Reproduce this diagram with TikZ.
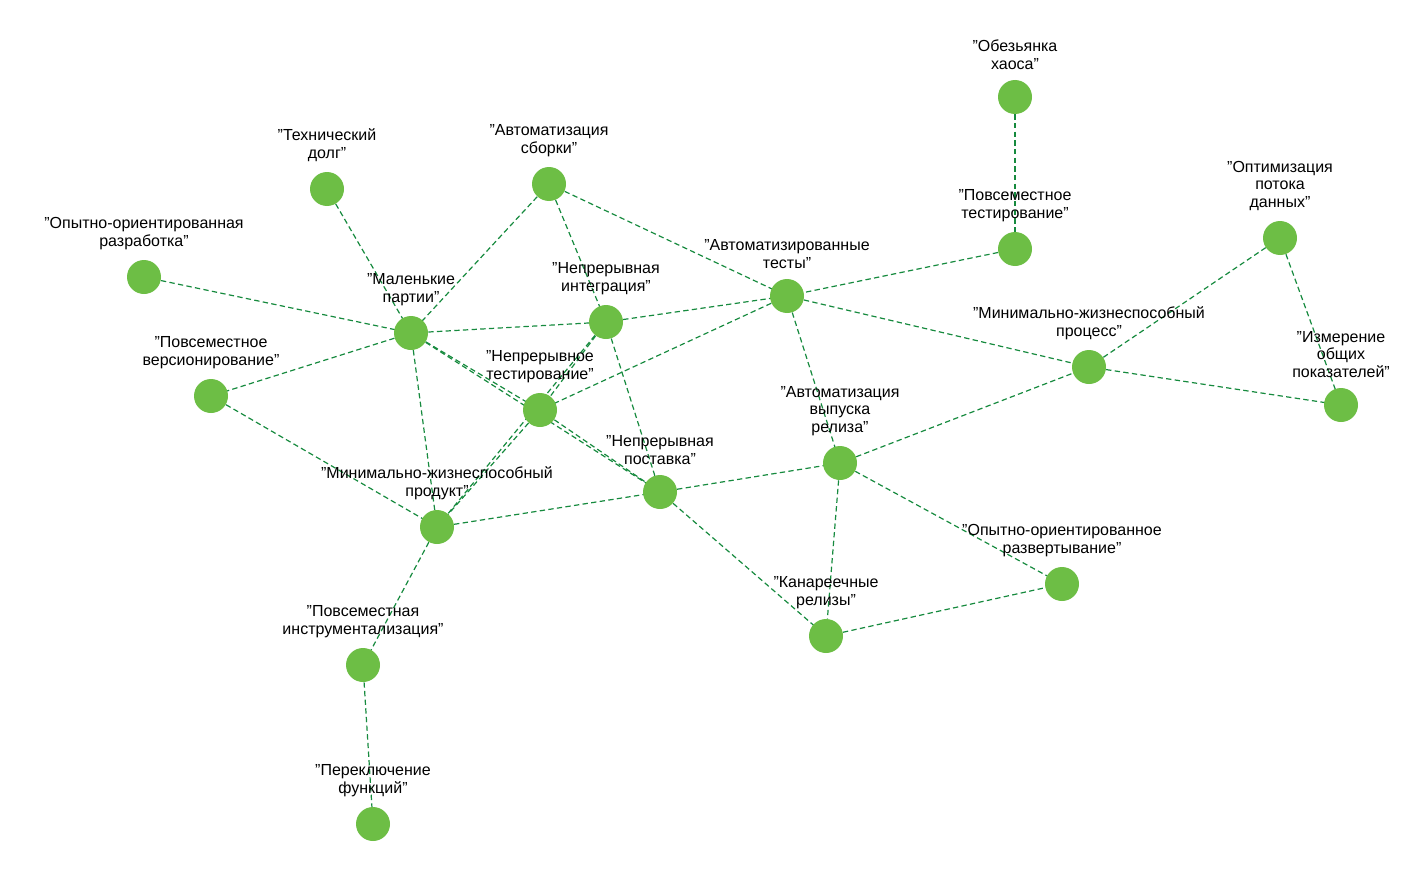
\documentclass[tikz,border=0pt]{standalone}
\usepackage{fontspec}
\setmainfont{Liberation Sans}
\definecolor{nd}{HTML}{6DBE45}
\definecolor{ed}{HTML}{168A3E}
\begin{document}
\begin{tikzpicture}[x=0.75pt,y=-0.75pt,
  v/.style={circle,fill=nd,minimum size=25.5pt,inner sep=0pt},
  lbl/.style={align=center,font=\fontsize{12}{13}\selectfont,inner sep=0.5pt,label distance=7pt},
  e/.style={draw=ed,dashed,line width=0.9pt,dash pattern=on 4pt off 2.5pt}]
\useasboundingbox (0,0) rectangle (1424,874);
\def\N#1#2#3#4{\node[v,label={[lbl]above:{#4}}] (#1) at (#2,#3) {};}
\begin{scope}[on background layer/.style={}]
\end{scope}
\path
  (1015,97) coordinate (pchaos) (1015,249) coordinate (pubtest);
% edges first (drawn under nodes)
\foreach \a/\b in {1015/97}{}
\coordinate (chaos) at (1015,97);
\coordinate (techdebt) at (327,189);
\coordinate (autobuild) at (549,184);
\coordinate (oppraz) at (144,277);
\coordinate (ubtest) at (1015,249);
\coordinate (optflow) at (1280,238);
\coordinate (small) at (411,333);
\coordinate (ci) at (606,322);
\coordinate (autotests) at (787,296);
\coordinate (vers) at (211,396);
\coordinate (ct) at (540,410);
\coordinate (mvproc) at (1089,367);
\coordinate (measure) at (1341,405);
\coordinate (release) at (840,463);
\coordinate (cd) at (660,492);
\coordinate (mvp) at (437,527);
\coordinate (expdep) at (1062,584);
\coordinate (canary) at (826,636);
\coordinate (instr) at (363,665);
\coordinate (toggle) at (373,824);
\foreach \a/\b in {chaos/ubtest,ubtest/autotests,techdebt/small,autobuild/small,autobuild/ci,autobuild/autotests,oppraz/small,small/ci,small/vers,small/ct,small/cd,small/mvp,ci/autotests,ci/ct,ci/mvp,ci/cd,autotests/ct,autotests/mvproc,autotests/release,vers/mvp,ct/cd,ct/mvp,mvp/cd,cd/release,cd/canary,release/mvproc,release/expdep,release/canary,canary/expdep,mvp/instr,instr/toggle,mvproc/optflow,mvproc/measure,optflow/measure}
  \draw[e] (\a) -- (\b);
\N{nchaos}{1015}{97}{"Обезьянка\\хаоса"}
\N{ntechdebt}{327}{189}{"Технический\\долг"}
\N{nautobuild}{549}{184}{"Автоматизация\\сборки"}
\N{noppraz}{144}{277}{"Опытно-ориентированная\\разработка"}
\N{nubtest}{1015}{249}{"Повсеместное\\тестирование"}
\N{noptflow}{1280}{238}{"Оптимизация\\потока\\данных"}
\N{nsmall}{411}{333}{"Маленькие\\партии"}
\N{nci}{606}{322}{"Непрерывная\\интеграция"}
\N{nautotests}{787}{296}{"Автоматизированные\\тесты"}
\N{nvers}{211}{396}{"Повсеместное\\версионирование"}
\N{nct}{540}{410}{"Непрерывное\\тестирование"}
\N{nmvproc}{1089}{367}{"Минимально-жизнеспособный\\процесс"}
\N{nmeasure}{1341}{405}{"Измерение\\общих\\показателей"}
\N{nrelease}{840}{463}{"Автоматизация\\выпуска\\релиза"}
\N{ncd}{660}{492}{"Непрерывная\\поставка"}
\N{nmvp}{437}{527}{"Минимально-жизнеспособный\\продукт"}
\N{nexpdep}{1062}{584}{"Опытно-ориентированное\\развертывание"}
\N{ncanary}{826}{636}{"Канареечные\\релизы"}
\N{ninstr}{363}{665}{"Повсеместная\\инструментализация"}
\N{ntoggle}{373}{824}{"Переключение\\функций"}
\end{tikzpicture}
\end{document}
